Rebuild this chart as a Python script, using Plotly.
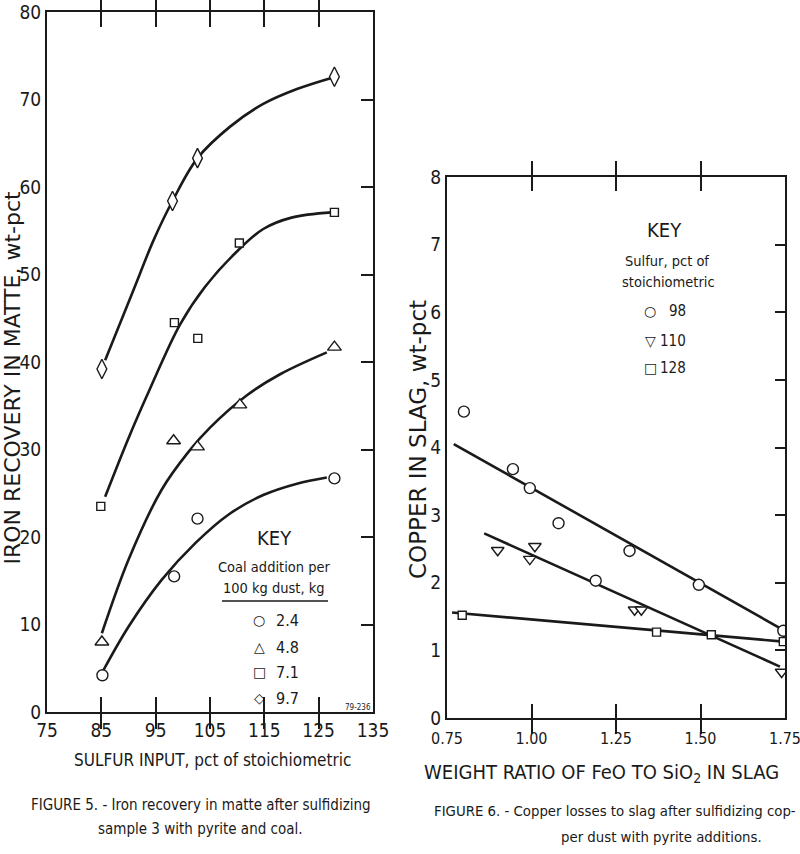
import plotly.graph_objects as go

# ---------------- DATA: Figure 5 ----------------
fig5_x_ticks = [75, 85, 95, 105, 115, 125, 135]
fig5_y_ticks = [0, 10, 20, 30, 40, 50, 60, 70, 80]

coal_labels = ["2.4", "4.8", "7.1", "9.7"]

s24_x = [85.2, 98.4, 102.7, 127.9]
s24_y = [4.2, 15.5, 22.1, 26.7]
s48_x = [85.1, 98.3, 102.7, 110.5, 127.9]
s48_y = [8.0, 31.0, 30.3, 35.1, 41.7]
s71_x = [84.9, 98.45, 102.75, 110.4, 127.9]
s71_y = [23.5, 44.5, 42.7, 53.6, 57.1]
s97_x = [85.1, 98.1, 102.7, 127.9]
s97_y = [39.2, 58.4, 63.3, 72.6]

# fitted curves
c24_x = [85.4, 90.0, 96.1, 102.3, 108.5, 114.8, 121.0, 126.5]
c24_y = [4.8, 9.75, 15.1, 19.3, 22.6, 24.8, 26.1, 26.8]
c48_x = [85.1, 90.0, 96.1, 101.0, 105.0, 111.8, 117.9, 126.5]
c48_y = [9.0, 17.4, 25.4, 29.7, 32.5, 36.2, 38.6, 41.1]
c71_x = [85.7, 90.0, 94.0, 99.5, 104.1, 109.9, 114.8, 120.0, 127.4]
c71_y = [24.6, 31.3, 37.0, 44.3, 48.6, 52.6, 55.2, 56.5, 57.1]
c97_x = [85.7, 90.9, 94.6, 98.1, 102.7, 108.7, 114.8, 121.0, 127.5]
c97_y = [40.2, 48.2, 53.9, 58.4, 63.3, 66.9, 69.5, 71.2, 72.5]

# ---------------- DATA: Figure 6 ----------------
fig6_x_ticks = [0.75, 1.00, 1.25, 1.50, 1.75]
fig6_x_ticktext = ["0.75", "1.00", "1.25", "1.50", "1.75"]
fig6_y_ticks = [0, 1, 2, 3, 4, 5, 6, 7, 8]

sulfur_labels = ["98", "110", "128"]

p98_x = [0.80, 0.945, 0.995, 1.08, 1.19, 1.29, 1.495, 1.745]
p98_y = [4.53, 3.68, 3.40, 2.88, 2.03, 2.47, 1.97, 1.29]
p110_x = [0.90, 0.995, 1.01, 1.305, 1.325, 1.74]
p110_y = [2.48, 2.35, 2.54, 1.60, 1.60, 0.68]
p128_x = [0.795, 1.37, 1.532, 1.745]
p128_y = [1.52, 1.27, 1.23, 1.13]

l98_x = [0.77, 1.735]
l98_y = [4.05, 1.33]
l110_x = [0.86, 1.735]
l110_y = [2.73, 0.76]
l128_x = [0.765, 1.745]
l128_y = [1.56, 1.13]

# ---------------- FIGURE ----------------
W, H = 800, 854
def px(x):
    return x / W
def py(y):
    return 1 - y / H

NARROW = "DejaVu Sans Condensed, Liberation Sans Narrow, DejaVu Sans, sans-serif"
WIDE = "DejaVu Sans, Verdana, sans-serif"
INK = "#1a1a1a"

fig = go.Figure()

line_style = dict(color=INK, width=2.6)

def curve(x, y, xa, ya, shape="spline"):
    fig.add_trace(go.Scatter(x=x, y=y, mode="lines", line=dict(shape=shape, **line_style),
                             xaxis=xa, yaxis=ya, showlegend=False, hoverinfo="skip"))

def points(x, y, xa, ya, symbol, size):
    fig.add_trace(go.Scatter(x=x, y=y, mode="markers", xaxis=xa, yaxis=ya, showlegend=False,
                             marker=dict(symbol=symbol, size=size, color="white",
                                         line=dict(color=INK, width=1.4))))

# Figure 5 curves + points
curve(c24_x, c24_y, "x", "y")
curve(c48_x, c48_y, "x", "y")
curve(c71_x, c71_y, "x", "y")
curve(c97_x, c97_y, "x", "y")
points(s24_x, s24_y, "x", "y", "circle", 11)
points(s48_x, s48_y, "x", "y", "triangle-up", 12)
points(s71_x, s71_y, "x", "y", "square", 8)
points(s97_x, s97_y, "x", "y", "diamond-tall", 14)

# Figure 6 lines + points
curve(l98_x, l98_y, "x2", "y2", "linear")
curve(l110_x, l110_y, "x2", "y2", "linear")
curve(l128_x, l128_y, "x2", "y2", "linear")
points(p98_x, p98_y, "x2", "y2", "circle", 11)
points(p110_x, p110_y, "x2", "y2", "triangle-down", 11)
points(p128_x, p128_y, "x2", "y2", "square", 8)

# empty traces so the right-hand tick axes are drawn
fig.add_trace(go.Scatter(x=[], y=[], xaxis="x", yaxis="y3", showlegend=False))
fig.add_trace(go.Scatter(x=[], y=[], xaxis="x2", yaxis="y4", showlegend=False))

tickfont = dict(family=NARROW, size=19, color=INK)

ax_common = dict(showgrid=False, zeroline=False, showline=True, linecolor=INK, linewidth=2,
                 tickcolor=INK, tickwidth=1.6, automargin=False, ticklabeloverflow="allow")

fig.update_layout(
    width=W, height=H, margin=dict(l=0, r=0, t=0, b=0, autoexpand=False),
    paper_bgcolor="white", plot_bgcolor="white", showlegend=False,
    xaxis=dict(domain=[px(47), px(373)], range=[75, 135], tickvals=fig5_x_ticks,
               ticks="inside", ticklen=15, mirror="allticks", anchor="y", tickfont=tickfont,
               **ax_common),
    yaxis=dict(domain=[py(712), py(12)], range=[0, 80], tickvals=fig5_y_ticks,
               ticks="", mirror=True, anchor="x", tickfont=tickfont, **ax_common),
    yaxis3=dict(domain=[py(712), py(12)], range=[0, 80], tickvals=fig5_y_ticks, overlaying="y",
                side="right", anchor="x", ticks="inside", ticklen=12, tickcolor=INK, tickwidth=1.6,
                showticklabels=False, showgrid=False, zeroline=False, showline=False,
                automargin=False),
    xaxis2=dict(domain=[px(447), px(785)], range=[0.75, 1.75], tickvals=fig6_x_ticks,
                ticktext=fig6_x_ticktext, ticks="inside", ticklen=14, mirror="allticks",
                anchor="y2", ticklabelstandoff=5,
                tickfont=dict(family=NARROW, size=16, color=INK), **ax_common),
    yaxis2=dict(domain=[py(718), py(177)], range=[0, 8], tickvals=fig6_y_ticks,
                ticks="", mirror=True, anchor="x2", tickfont=tickfont, **ax_common),
    yaxis4=dict(domain=[py(718), py(177)], range=[0, 8], tickvals=fig6_y_ticks, overlaying="y2",
                side="right", anchor="x2", ticks="inside", ticklen=10, tickcolor=INK, tickwidth=1.6,
                showticklabels=False, showgrid=False, zeroline=False, showline=False,
                automargin=False),
)

ann = []
def text(x, y, s, size, family=NARROW, xanchor="center", angle=0):
    ann.append(dict(x=px(x), y=py(y), xref="paper", yref="paper", text=s, showarrow=False,
                    xanchor=xanchor, yanchor="middle", textangle=angle,
                    font=dict(family=family, size=size, color=INK)))

# axis titles
text(11.5, 378, "IRON RECOVERY IN MATTE, wt-pct", 22, WIDE, angle=-90)
text(212, 760, "SULFUR INPUT, pct of stoichiometric", 17)
text(418, 440, "COPPER IN SLAG, wt-pct", 23, WIDE, angle=-90)
text(601, 773, "WEIGHT RATIO OF FeO TO SiO<sub>2</sub> IN SLAG", 20)

# captions
text(201, 805, "FIGURE 5. - Iron recovery in matte after sulfidizing", 15)
text(201, 829, "sample 3 with pyrite and coal.", 15)
text(432, 810, "FIGURE 6. - Copper losses to slag after sulfidizing cop-", 14.8, xanchor="left")
text(559, 836, "per dust with pyrite additions.", 14.8, xanchor="left")

# Figure 5 key
text(274, 538, "KEY", 20)
text(274, 567, "Coal addition per", 14.5)
text(274, 588, "100 kg dust, kg", 14.5)
key5_syms = ["○", "△", "□", "◇"]
key5_rows = [620, 647, 672, 698]
for sym, lab, yy in zip(key5_syms, coal_labels, key5_rows):
    text(259, yy, sym, 14, WIDE)
    text(274, yy, lab, 16, xanchor="left")
text(358, 707, "79-236", 8)

# Figure 6 key
text(664, 230, "KEY", 20)
text(667, 261, "Sulfur, pct of", 14.5)
text(668, 282, "stoichiometric", 14.5)
key6_syms = ["○", "▽", "□"]
key6_rows = [311, 341, 368]
for sym, lab, yy in zip(key6_syms, sulfur_labels, key6_rows):
    text(650, yy, sym, 14, WIDE)
    text(688, yy, lab, 15, xanchor="right")

fig.update_layout(annotations=ann,
                  shapes=[dict(type="line", xref="paper", yref="paper", x0=px(222), x1=px(328),
                               y0=py(601), y1=py(601), line=dict(color=INK, width=1.5))])

# remove the browser's default 8px body margin so the figure sits at the window corner
fig.write_html("out.html", config={"displayModeBar": False},
               post_script="document.body.style.margin='0';")
